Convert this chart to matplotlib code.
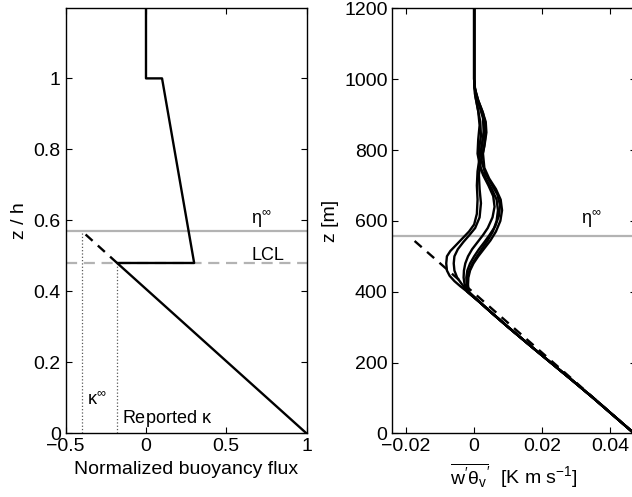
"""Two-panel buoyancy flux profile: normalized (left) and LES profiles in metres (right)."""
import matplotlib
matplotlib.use("Agg")
import matplotlib.pyplot as plt

plt.rcParams["font.family"] = ["Liberation Sans", "DejaVu Sans"]
plt.rcParams["mathtext.fontset"] = "custom"
plt.rcParams["mathtext.rm"] = "Liberation Sans"
plt.rcParams["mathtext.it"] = "Liberation Sans"
plt.rcParams["font.size"] = 14

# ---- left panel data (normalized flux vs z/h) ----
flux_norm = [1.0, -0.18, 0.30, 0.10, 0.0, 0.0]
zh_norm = [0.0, 0.48, 0.48, 1.0, 1.0, 1.2]
ext_flux = [-0.18, -0.40]
ext_zh = [0.48, 0.57]
KAPPA_INF = -0.40
KAPPA_REP = -0.18
ETA_INF = 0.57
LCL = 0.48

# ---- right panel data (LES buoyancy flux profiles) ----
# shared surface-layer part
z_lower = [0, 50, 100, 150, 200, 250, 300, 340, 370]
x_lower = [0.047, 0.041, 0.035, 0.0288, 0.0225, 0.0162, 0.0100, 0.0052, 0.0017]

z_A = [400, 415, 430, 445, 460, 480, 500, 515, 530, 550, 570, 590, 620, 660, 700,
       740, 780, 820, 860, 890, 920, 950, 980, 1000, 1200]
x_A = [-0.002, -0.004, -0.0058, -0.0072, -0.0080, -0.0082, -0.0080, -0.0070, -0.0055,
       -0.0035, -0.0015, 0.0, 0.0008, 0.0010, 0.0008, 0.0010, 0.0016, 0.0024, 0.0030,
       0.0028, 0.0018, 0.0007, 0.0001, 0.0, 0.0]
z_B = [400, 420, 440, 460, 480, 500, 520, 540, 560, 580, 610, 650, 690, 730, 770,
       810, 850, 880, 910, 940, 970, 1000, 1200]
x_B = [-0.002, -0.0035, -0.0050, -0.0058, -0.0060, -0.0058, -0.0048, -0.0032, -0.0014,
       0.0003, 0.0016, 0.0020, 0.0016, 0.0014, 0.0020, 0.0030, 0.0036, 0.0034, 0.0024,
       0.0012, 0.0003, 0.0, 0.0]
z_C = [400, 420, 440, 460, 480, 500, 520, 540, 560, 580, 610, 640, 670, 700, 730,
       760, 800, 840, 880, 920, 960, 1000, 1200]
x_C = [-0.002, -0.0028, -0.0031, -0.0030, -0.0026, -0.0018, -0.0006, 0.0010, 0.0026,
       0.0040, 0.0054, 0.0060, 0.0056, 0.0042, 0.0026, 0.0016, 0.0014, 0.0020, 0.0018,
       0.0010, 0.0002, 0.0, 0.0]
z_D = [400, 420, 440, 460, 480, 500, 520, 540, 560, 585, 615, 645, 675, 705, 735,
       770, 810, 850, 890, 930, 965, 1000, 1200]
x_D = [-0.0018, -0.0022, -0.0023, -0.0020, -0.0012, 0.0, 0.0014, 0.0030, 0.0045,
       0.0062, 0.0073, 0.0076, 0.0068, 0.0050, 0.0032, 0.0022, 0.0022, 0.0028, 0.0026,
       0.0014, 0.0003, 0.0, 0.0]
z_E = [400, 420, 440, 460, 480, 500, 520, 545, 570, 600, 630, 660, 690, 720, 750,
       790, 830, 870, 905, 940, 975, 1000, 1200]
x_E = [-0.0016, -0.0018, -0.0017, -0.0012, -0.0002, 0.0012, 0.0028, 0.0048, 0.0064,
       0.0077, 0.0082, 0.0078, 0.0064, 0.0044, 0.0030, 0.0026, 0.0032, 0.0034, 0.0026,
       0.0012, 0.0002, 0.0, 0.0]
z_F = [400, 420, 440, 460, 480, 500, 520, 545, 570, 600, 630, 660, 690, 720, 750,
       790, 830, 870, 910, 950, 1000, 1200]
x_F = [-0.0017, -0.0020, -0.0019, -0.0014, -0.0005, 0.0008, 0.0022, 0.0040, 0.0055,
       0.0066, 0.0070, 0.0066, 0.0052, 0.0034, 0.0018, 0.0010, 0.0012, 0.0016, 0.0012,
       0.0004, 0.0, 0.0]
les_profiles = [(x_A, z_A), (x_B, z_B), (x_C, z_C), (x_D, z_D), (x_E, z_E), (x_F, z_F)]

theory_x = [0.047, -0.019]
theory_z = [0, 556]
ETA_INF_M = 556

GRAY = "#b3b3b3"

fig = plt.figure(figsize=(6.32, 4.97), dpi=100)
ax1 = fig.add_axes([0.104, 0.128, 0.381, 0.855])
ax2 = fig.add_axes([0.621, 0.128, 0.385, 0.855])

for ax in (ax1, ax2):
    ax.tick_params(direction="in", length=4, top=True, right=True, width=0.8)
    for s in ax.spines.values():
        s.set_linewidth(1.0)

# left panel
ax1.axhline(ETA_INF, color=GRAY, lw=1.6)
ax1.axhline(LCL, color=GRAY, lw=1.6, ls=(0, (5, 3)))
ax1.plot([KAPPA_INF, KAPPA_INF], [0, ETA_INF], color="0.35", lw=0.9, ls=":")
ax1.plot([KAPPA_REP, KAPPA_REP], [0, LCL], color="0.35", lw=0.9, ls=":")
ax1.plot(ext_flux, ext_zh, color="k", lw=1.7, ls=(0, (4, 3)))
ax1.plot(flux_norm, zh_norm, color="k", lw=1.7)
ax1.text(0.72, 0.59, r"$\eta^{\infty}$", ha="center", va="baseline", fontsize=13)
ax1.text(0.76, 0.488, "LCL", ha="center", va="baseline", fontsize=13)
ax1.text(-0.37, 0.08, r"$\kappa^{\infty}$", ha="left", va="baseline", fontsize=13)
ax1.text(-0.15, 0.03, r"Reported $\kappa$", ha="left", va="baseline", fontsize=13)
ax1.set_xlim(-0.5, 1)
ax1.set_ylim(0, 1.197)
ax1.set_xticks([-0.5, 0, 0.5, 1])
ax1.set_xticklabels(["\u22120.5", "0", "0.5", "1"])
ax1.set_yticks([0, 0.2, 0.4, 0.6, 0.8, 1])
ax1.set_yticklabels(["0", "0.2", "0.4", "0.6", "0.8", "1"])
ax1.set_xlabel("Normalized buoyancy flux")
ax1.set_ylabel("z / h")

# right panel
ax2.axhline(ETA_INF_M, color=GRAY, lw=1.6)
for xs, zs in les_profiles:
    ax2.plot(x_lower + xs, z_lower + zs, color="k", lw=1.7, solid_joinstyle="round")
ax2.plot(theory_x, theory_z, color="k", lw=1.7, ls=(0, (4, 3)))
ax2.text(0.0345, 590, r"$\eta^{\infty}$", ha="center", va="baseline", fontsize=13)
ax2.set_xlim(-0.024, 0.0475)
ax2.set_ylim(0, 1200)
ax2.set_xticks([-0.02, 0, 0.02, 0.04])
ax2.set_xticklabels(["\u22120.02", "0", "0.02", "0.04"])
ax2.set_yticks([0, 200, 400, 600, 800, 1000, 1200])
ax2.set_xlabel(r"$\overline{w'\theta_v}'$  [K m s$^{-1}$]")
ax2.set_ylabel("z [m]")

fig.savefig("out.png", dpi=100)
